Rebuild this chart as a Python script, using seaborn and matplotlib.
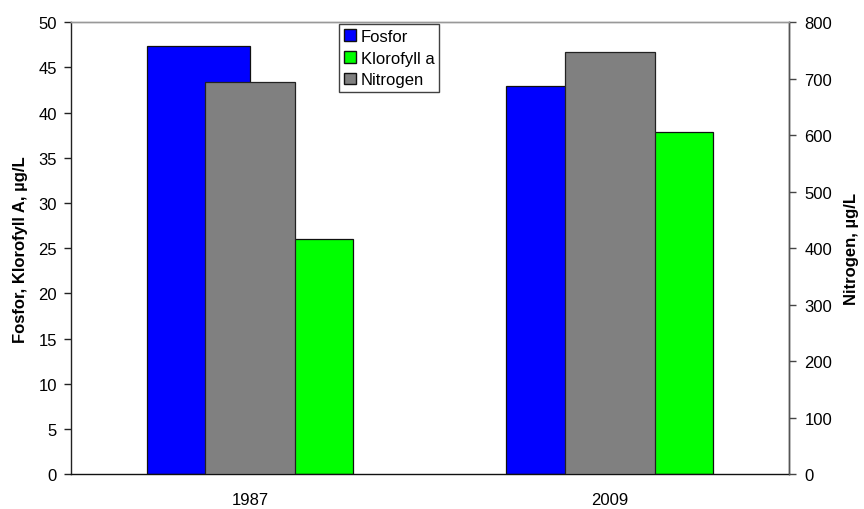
import matplotlib
matplotlib.use("Agg")
import matplotlib.pyplot as plt
import matplotlib.patches as mpatches
import pandas as pd
import seaborn as sns

# data
years = ["1987", "2009"]
fosfor = [47.4, 43.0]
klorofyll = [26.0, 37.9]
nitrogen = [695, 747]

primary = pd.DataFrame({
    "year": years * 2,
    "serie": ["Fosfor"] * 2 + ["Klorofyll a"] * 2,
    "value": fosfor + klorofyll,
})
secondary = pd.DataFrame({"year": years, "value": nitrogen})

sns.set_style("white")
plt.rcParams["font.family"] = ["Liberation Sans", "DejaVu Sans"]
plt.rcParams["font.size"] = 12
plt.rcParams["text.color"] = "black"
plt.rcParams["axes.labelcolor"] = "black"
plt.rcParams["xtick.color"] = "black"
plt.rcParams["ytick.color"] = "black"

fig = plt.figure(figsize=(8.64, 5.1), dpi=100)
ax = fig.add_axes([0.0818, 0.068, 0.8317, 0.8865])

sns.barplot(data=primary, x="year", y="value", hue="serie",
            palette=["#0000FF", "#00FF00"], width=0.574, dodge=True,
            edgecolor="#111111", linewidth=0.9, saturation=1,
            legend=False, ax=ax)

ax2 = ax.twinx()
sns.barplot(data=secondary, x="year", y="value", color="#808080",
            width=0.25, edgecolor="#222222", linewidth=0.9, saturation=1,
            ax=ax2)

ax.set_xlim(-0.5, 1.5)
ax.set_ylim(0, 50)
ax.set_yticks(range(0, 51, 5))
ax2.set_ylim(0, 800)
ax2.set_yticks(range(0, 801, 100))

# category boundary ticks like Excel
ax.set_xticks([-0.5, 0.5, 1.5], minor=True)
ax.tick_params(axis="x", which="major", length=0, pad=13, labelsize=12)
ax.tick_params(axis="x", which="minor", length=6, width=1, color="#222222",
               direction="out")
ax.tick_params(axis="y", length=5, width=1, color="#222222", direction="out",
               left=True, labelsize=12, pad=5)
ax2.tick_params(axis="y", length=5, width=1, color="#444444", direction="out",
                right=True, labelsize=12, pad=6)

ax.set_xlabel("")
ax.set_ylabel("Fosfor, Klorofyll A, µg/L", fontweight="bold", fontsize=12,
              labelpad=7)
ax2.set_xlabel("")
ax2.set_ylabel("Nitrogen, µg/L", fontweight="bold", fontsize=12, labelpad=8)

for a in (ax, ax2):
    for s in a.spines.values():
        s.set_linewidth(1)
ax.spines["left"].set_color("#222222")
ax.spines["bottom"].set_color("#111111")
ax.spines["top"].set_color("#999999")
ax2.spines["top"].set_color("#999999")
ax2.spines["right"].set_color("#555555")
ax2.spines["left"].set_visible(False)
ax2.spines["bottom"].set_visible(False)

handles = [
    mpatches.Patch(facecolor="#0000FF", edgecolor="#111111", label="Fosfor"),
    mpatches.Patch(facecolor="#00FF00", edgecolor="#111111", label="Klorofyll a"),
    mpatches.Patch(facecolor="#808080", edgecolor="#111111", label="Nitrogen"),
]
leg = fig.legend(handles=handles, loc="upper left",
                 bbox_to_anchor=(339 / 864, 1 - 25 / 510),
                 frameon=True, fancybox=False, fontsize=12,
                 handlelength=0.7, handleheight=0.7, handletextpad=0.3,
                 labelspacing=0.4, borderpad=0.3, borderaxespad=0)
leg.get_frame().set_edgecolor("#111111")
leg.get_frame().set_linewidth(1)

fig.savefig("out.png", dpi=100)
plt.close(fig)
